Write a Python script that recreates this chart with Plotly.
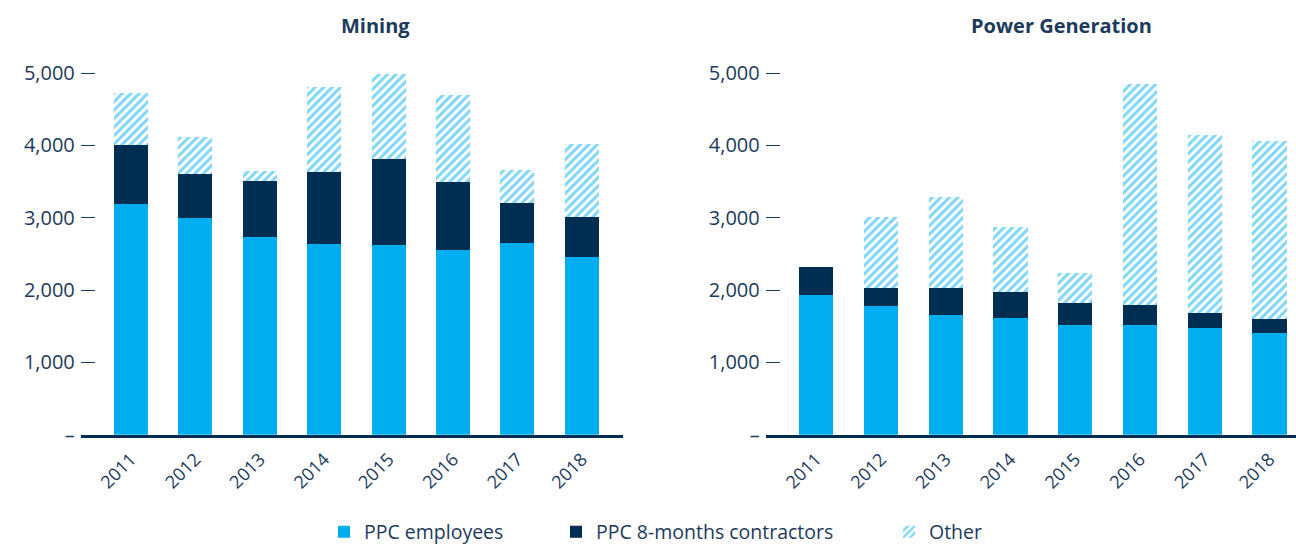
import plotly.graph_objects as go

# ---------------- data ----------------
years = ["2011", "2012", "2013", "2014", "2015", "2016", "2017", "2018"]

mining_employees = [3190, 3000, 2735, 2640, 2625, 2555, 2655, 2450]
mining_contractors = [815, 610, 770, 985, 1190, 945, 555, 555]
mining_other = [720, 500, 140, 1180, 1165, 1190, 450, 1015]

power_employees = [1930, 1780, 1660, 1615, 1520, 1520, 1480, 1410]
power_contractors = [395, 245, 365, 355, 300, 275, 205, 185]
power_other = [0, 985, 1265, 905, 410, 3055, 2455, 2460]

series_names = ["PPC employees", "PPC 8-months contractors", "Other"]
panel_titles = ["Mining", "Power Generation"]
y_tickvals = [0, 1000, 2000, 3000, 4000, 5000]
y_ticktext = ["–", "1,000", "2,000", "3,000", "4,000", "5,000"]

# ---------------- style ----------------
W, H = 1296, 552
C_EMP = "#00AEEF"
C_CON = "#002E52"
C_TXT = "#1B3A5C"
FONT = "Open Sans"


def px_x(p):
    """page pixel x -> paper fraction"""
    return p / W


def px_y(p):
    """page pixel y -> paper fraction"""
    return 1 - p / H


fig = go.Figure()

panels = [
    ("x", "y", mining_employees, mining_contractors, mining_other, True),
    ("x2", "y2", power_employees, power_contractors, power_other, False),
]
for xa, ya, emp, con, oth, show in panels:
    fig.add_trace(go.Bar(
        x=years, y=emp, name=series_names[0], xaxis=xa, yaxis=ya,
        marker=dict(color=C_EMP, line=dict(width=0)),
        showlegend=show, legend="legend",
    ))
    fig.add_trace(go.Bar(
        x=years, y=con, name=series_names[1], xaxis=xa, yaxis=ya,
        marker=dict(color=C_CON, line=dict(width=0)),
        showlegend=show, legend="legend2",
    ))
    fig.add_trace(go.Bar(
        x=years, y=oth, name=series_names[2], xaxis=xa, yaxis=ya,
        marker=dict(color="white", line=dict(width=0),
                    pattern=dict(shape="/", fgcolor=C_EMP, bgcolor="white",
                                 size=6, solidity=0.5)),
        showlegend=show, legend="legend3",
    ))

y_dom = [px_y(440.3), px_y(59.3)]

xcommon = dict(
    type="category", showgrid=False, zeroline=False,
    showline=True, linecolor=C_CON, linewidth=3,
    ticks="", tickangle=-45, automargin=False, ticklabelstandoff=4,
    tickfont=dict(family=FONT, size=18, color=C_TXT),
)
ycommon = dict(
    range=[0, 5200], domain=y_dom, showgrid=False, zeroline=False,
    showline=False, ticks="inside", ticklen=14, tickwidth=1.2, tickcolor=C_TXT,
    tickvals=y_tickvals, ticktext=y_ticktext, automargin=False,
    ticklabelstandoff=5,
    tickfont=dict(family=FONT, size=20, color=C_TXT),
)

legend_common = dict(
    orientation="h", yanchor="middle", xanchor="left",
    y=px_y(539), font=dict(family=FONT, size=19.5, color=C_TXT),
    bgcolor="rgba(0,0,0,0)",
)

fig.update_layout(
    width=W, height=H,
    margin=dict(l=0, r=0, t=0, b=0),
    paper_bgcolor="white", plot_bgcolor="white",
    barmode="stack", bargap=0.472,
    font=dict(family=FONT, color=C_TXT),
    xaxis=dict(xcommon, domain=[px_x(80.8), px_x(623.1)], range=[-0.78, 7.64], anchor="y"),
    yaxis=dict(ycommon, anchor="x"),
    xaxis2=dict(xcommon, domain=[px_x(765.7), 1.0], range=[-0.78, 7.41], anchor="y2"),
    yaxis2=dict(ycommon, anchor="x2"),
    legend=dict(legend_common, x=px_x(364 - 40)),
    legend2=dict(legend_common, x=px_x(596 - 40)),
    legend3=dict(legend_common, x=px_x(929 - 40)),
    annotations=[
        dict(text="<b>%s</b>" % panel_titles[0], x=px_x(375), y=px_y(26),
             xref="paper", yref="paper", showarrow=False,
             xanchor="center", yanchor="middle",
             font=dict(family=FONT, size=20, color=C_TXT)),
        dict(text="<b>%s</b>" % panel_titles[1], x=px_x(1061.5), y=px_y(26),
             xref="paper", yref="paper", showarrow=False,
             xanchor="center", yanchor="middle",
             font=dict(family=FONT, size=20, color=C_TXT)),
    ],
)

fig.write_html(
    "out.html",
    config={"displayModeBar": False},
    post_script="document.body.style.margin='0px';document.body.style.overflow='hidden';",
)
